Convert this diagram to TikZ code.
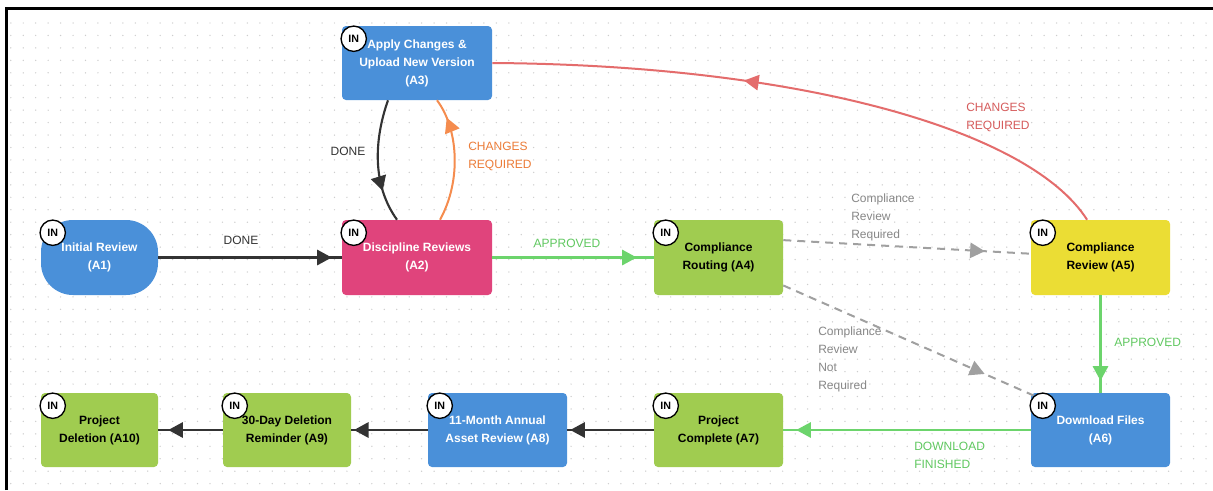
\documentclass[tikz,border=0pt]{standalone}
\usepackage{fontspec}
\setmainfont{Liberation Sans}
\usetikzlibrary{arrows.meta,decorations.markings,calc}
\definecolor{cblue}{RGB}{74,144,217}
\definecolor{cpink}{RGB}{224,68,124}
\definecolor{cgreen}{RGB}{160,204,80}
\definecolor{cyellow}{RGB}{235,221,52}
\definecolor{lgreen}{RGB}{108,212,108}
\definecolor{tgreen}{RGB}{96,200,96}
\definecolor{lred}{RGB}{228,108,108}
\definecolor{tred}{RGB}{214,92,92}
\definecolor{lorange}{RGB}{245,140,78}
\definecolor{torange}{RGB}{236,124,56}
\definecolor{lgray}{RGB}{160,160,160}
\definecolor{tgray}{RGB}{135,135,135}
\definecolor{lblack}{RGB}{51,51,51}
\definecolor{dotc}{RGB}{205,205,205}
\begin{document}
\begin{tikzpicture}[x=0.75pt,y=-0.75pt,
  box/.style={inner sep=0pt, rounded corners=3pt, align=center, font=\fontsize{9}{13.5}\selectfont\bfseries},
  wbox/.style={box, text=white},
  kbox/.style={box, text=black},
  innode/.style={circle, draw=black, line width=1pt, fill=white, minimum size=19pt, inner sep=0pt, font=\fontsize{8}{8}\selectfont\bfseries},
  lab/.style={inner sep=0pt, align=left, font=\fontsize{9}{13.5}\selectfont},
  tipat/.style={postaction={decorate}, decoration={markings, mark=at position #1 with {\arrow{Triangle[length=11pt,width=11.5pt]}}}},
  blk/.style={color=lblack, line width=1.6pt},
  grn/.style={color=lgreen, line width=1.6pt},
  dsh/.style={color=lgray, line width=1.5pt, dash pattern=on 6pt off 4.5pt},
  org/.style={color=lorange, line width=1.5pt},
  rd/.style={color=lred, line width=1.5pt}
]
\useasboundingbox (0,0) rectangle (1213,490);
\fill[white] (0,0) rectangle (1213,490);
% dot grid
\foreach \gx in {10.8,23.25,...,1213} {
  \foreach \gy in {23,35.45,...,490} {
    \fill[dotc] (\gx,\gy) circle (0.55pt);
  }
}
% frame
\draw[line width=2.4pt, black] (6.5,490) -- (6.5,8.5) -- (1213,8.5);

% nodes
\node[wbox, fill=cblue, minimum width=87.75pt, minimum height=56.25pt, rounded corners=24pt] (A1) at (99.5,257.5) {Initial Review\\(A1)};
\node[wbox, fill=cpink, minimum width=112.5pt, minimum height=56.25pt] (A2) at (417,257.5) {Discipline Reviews\\(A2)};
\node[wbox, fill=cblue, minimum width=112.5pt, minimum height=55.5pt] (A3) at (417,63) {Apply Changes \&\\Upload New Version\\(A3)};
\node[kbox, fill=cgreen, minimum width=96.75pt, minimum height=56.25pt] (A4) at (718.5,257.5) {Compliance\\Routing (A4)};
\node[kbox, fill=cyellow, minimum width=104.25pt, minimum height=56.25pt] (A5) at (1100.5,257.5) {Compliance\\Review (A5)};
\node[wbox, fill=cblue, minimum width=104.25pt, minimum height=55.5pt] (A6) at (1100.5,430) {Download Files\\(A6)};
\node[kbox, fill=cgreen, minimum width=96.75pt, minimum height=55.5pt] (A7) at (718.5,430) {Project\\Complete (A7)};
\node[wbox, fill=cblue, minimum width=104.25pt, minimum height=55.5pt] (A8) at (497.5,430) {11-Month Annual\\Asset Review (A8)};
\node[kbox, fill=cgreen, minimum width=96pt, minimum height=55.5pt] (A9) at (287,430) {30-Day Deletion\\Reminder (A9)};
\node[kbox, fill=cgreen, minimum width=87.75pt, minimum height=55.5pt] (A10) at (99.5,430) {Project\\Deletion (A10)};

% edges
\draw[blk, tipat=-7.5pt] (A1) -- (A2);
\draw[grn, tipat=-12.75pt] (A2) -- (A4);
\draw[dsh, tipat=-34.5pt] ($(A4.north east)!0.27!(A4.south east)$) -- ($(A5.north west)!0.45!(A5.south west)$);
\draw[dsh, tipat=-40pt] ($(A4.north east)!0.87!(A4.south east)$) -- ([xshift=2pt,yshift=-2pt]A6.north west);
\draw[grn, tipat=-9pt] (A5) -- (A6);
\draw[grn, tipat=-9.75pt] (A6) -- (A7);
\draw[blk, tipat=-2.25pt] (A7) -- (A8);
\draw[blk, tipat=-2pt] (A8) -- (A9);
\draw[blk, tipat=-7.5pt] (A9) -- (A10);
\draw[blk, tipat=0.74] ([xshift=-21.75pt]A3.south) .. controls (374,140) and (372,185) .. ([xshift=-15pt]A2.north);
\draw[org, tipat=0.84] ([xshift=17.25pt]A2.north) .. controls (462,180) and (458,128) .. ([xshift=15pt]A3.south);
\draw[rd, tipat=0.6] ([xshift=-10.1pt]A5.north) .. controls (1030,130) and (800,65) .. (A3.east);

% IN markers
\foreach \n in {A1,A2,A3,A4,A5,A6,A7,A8,A9,A10} {
  \node[innode] (in\n) at ([xshift=9pt,yshift=-9.75pt]\n.north west) {IN};
}

% labels
\node[lab, text=lblack] (tDone1) at (241,240) {DONE};
\node[lab, text=tgreen] (tAppr1) at (567,243) {APPROVED};
\node[lab, text=lblack] (tDone2) at (348,151) {DONE};
\node[lab, text=torange, anchor=west] (tChg1) at (468,156.5) {CHANGES\\REQUIRED};
\node[lab, text=tred, anchor=west] (tChg2) at (966,117) {CHANGES\\REQUIRED};
\node[lab, text=tgray, anchor=west] (tCR) at (851,217) {Compliance\\Review\\Required};
\node[lab, text=tgray, anchor=west] (tCNR) at (818,359) {Compliance\\Review\\Not\\Required};
\node[lab, text=tgreen, anchor=west] (tAppr2) at (1114,342) {APPROVED};
\node[lab, text=tgreen, anchor=west] (tDL) at (914,455) {DOWNLOAD\\FINISHED};
\end{tikzpicture}
\end{document}
